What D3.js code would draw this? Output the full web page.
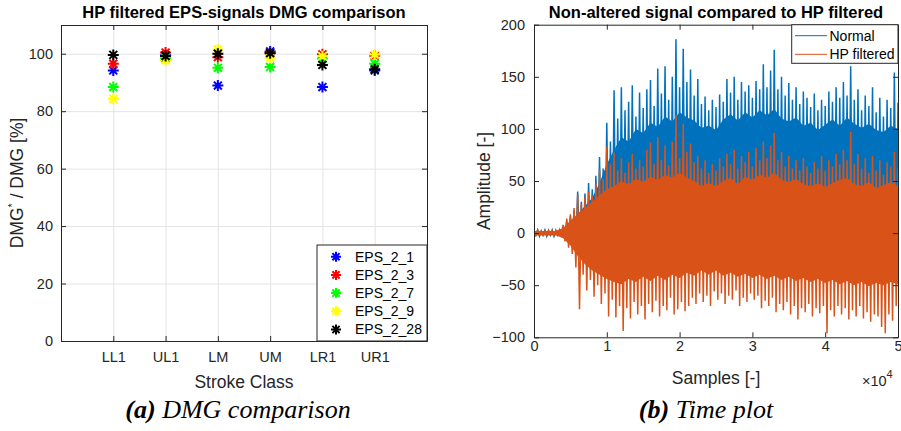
<!DOCTYPE html>
<meta charset="utf-8">
<style>
    body { margin: 0; background: #fff; }
    svg { display: block; font-family: "Liberation Sans", Arial, sans-serif; }
    .axis path, .axis line { stroke: #262626; }
    .axis text { fill: #262626; font-size: 14.5px; font-family: "Liberation Sans", Arial, sans-serif; }
    .grid line { stroke: #e4e4e4; }
    .grid path { display: none; }
    .lbl { fill: #262626; font-size: 17.5px; }
    .ttl { fill: #000; font-size: 16.5px; font-weight: bold; }
    .leg { fill: #000; font-size: 14px; }
    .cap { font-family: "Liberation Serif", "Times New Roman", serif; font-style: italic; font-size: 26px; fill: #000; }
</style>
<body>
<script src="https://cdn.jsdelivr.net/npm/d3@7"></script>
<script>
// ---- (a) DMG comparison data
var strokeClasses = ["LL1", "UL1", "LM", "UM", "LR1", "UR1"];
var eps_2_1  = [94.2, 99.5, 88.9, 100.8, 88.4, 94.2];
var eps_2_3  = [96.5, 100.4, 98.8, 100.3, 99.8, 99.3];
var eps_2_7  = [88.4, 98.4, 95.1, 95.4, 98.3, 96.5];
var eps_2_9  = [84.3, 97.8, 101.5, 98.6, 99.1, 99.7];
var eps_2_28 = [99.6, 99.2, 100.0, 100.2, 96.1, 94.6];
var seriesNames = ["EPS_2_1", "EPS_2_3", "EPS_2_7", "EPS_2_9", "EPS_2_28"];
var dmgTicks = [0, 20, 40, 60, 80, 100];

// ---- (b) time plot data: peaks, one bin per 500 samples
var binSize = 500;
var normalHi = [
    2, 3, 2, 3, 2, 3, 2, 3, 6, 12,
    16, 22, 40, 30, 38, 48, 42, 55, 73, 62,
    106, 88, 137, 110, 140, 118, 126, 142, 112, 135,
    120, 138, 147, 122, 158, 134, 160, 128, 150, 186,
    140, 177, 145, 157, 132, 148, 124, 131, 118, 128,
    121, 133, 126, 148, 135, 150, 128, 145, 136, 142,
    130, 146, 138, 162, 140, 156, 176, 138, 150, 132,
    144, 128, 140, 124, 136, 130, 121, 134, 118, 128,
    122, 136, 126, 140, 130, 145, 132, 160, 128, 138,
    118, 132, 122, 140, 116, 130, 112, 128, 120, 154,
    125];
var normalLo = [
    -2, -3, -2, -3, -2, -3, -2, -3, -5, -8,
    -10, -12, -15, -14, -18, -16, -20, -19, -22, -21,
    -25, -23, -27, -24, -28, -25, -27, -24, -28, -26,
    -27, -24, -28, -26, -27, -25, -28, -26, -27, -24,
    -26, -25, -28, -24, -27, -25, -26, -24, -28, -25,
    -27, -24, -26, -25, -28, -24, -27, -26, -25, -24,
    -28, -25, -27, -24, -26, -25, -28, -26, -27, -24,
    -26, -25, -28, -24, -27, -26, -28, -25, -27, -24,
    -28, -25, -26, -24, -27, -25, -28, -26, -27, -24,
    -26, -25, -28, -26, -27, -24, -28, -25, -27, -26,
    -25];
var filteredHi = [
    2, 3, 2, 2, 3, 2, 3, 2, 8, 14,
    18, 24, 37, 28, 34, 40, 36, 48, 61, 52,
    83, 66, 77, 60, 72, 58, 68, 76, 62, 70,
    64, 80, 87, 66, 92, 70, 84, 65, 88, 113,
    72, 105, 78, 86, 68, 74, 62, 70, 58, 66,
    60, 72, 64, 76, 66, 80, 62, 74, 68, 78,
    64, 82, 70, 88, 72, 84, 96, 70, 78, 64,
    74, 62, 70, 60, 72, 64, 58, 68, 62, 74,
    60, 70, 64, 76, 66, 80, 70, 97, 66, 76,
    62, 72, 58, 74, 60, 70, 56, 68, 64, 78,
    62];
var filteredLo = [
    -2, -1, -2, -2, -1, -2, -1, -2, -8, -14,
    -20, -33, -73, -40, -55, -45, -61, -50, -68, -58,
    -80, -64, -81, -70, -94, -72, -82, -66, -78, -70,
    -83, -68, -76, -65, -80, -70, -74, -62, -78, -73,
    -66, -75, -70, -62, -68, -58, -66, -60, -70, -56,
    -64, -58, -68, -60, -64, -55, -70, -62, -66, -58,
    -64, -60, -72, -65, -70, -62, -76, -68, -74, -66,
    -78, -70, -83, -72, -76, -68, -80, -72, -77, -70,
    -96, -74, -80, -70, -78, -72, -83, -74, -80, -70,
    -82, -76, -85, -78, -80, -90, -96, -78, -84, -70,
    -76];
// dense part of each trace, one value per 1000 samples
var coreStep = 1000;
var normalCoreHi = [
    2, 2, 2, 2, 4, 10, 18, 26, 34, 48,
    66, 80, 92, 88, 100, 96, 106, 102, 112, 107,
    116, 111, 108, 101, 103, 99, 109, 114, 108, 116,
    111, 118, 113, 119, 110, 107, 111, 103, 106, 99,
    104, 109, 103, 111, 105, 101, 105, 99, 97, 103,
    100];
var normalCoreLo = [
    -2, -2, -2, -2, -4, -8, -12, -15, -17, -19,
    -20, -21, -22, -21, -23, -22, -21, -23, -22, -21,
    -23, -22, -21, -23, -22, -21, -22, -23, -21, -22,
    -23, -21, -22, -23, -21, -22, -23, -22, -21, -23,
    -22, -21, -23, -22, -21, -22, -23, -21, -22, -23,
    -22];
var filteredCoreHi = [
    2, 2, 2, 2, 5, 12, 18, 24, 30, 36,
    42, 45, 50, 47, 52, 49, 54, 51, 56, 53,
    58, 53, 50, 45, 48, 45, 50, 53, 47, 54,
    51, 56, 53, 58, 51, 49, 52, 47, 45, 48,
    44, 48, 51, 53, 47, 45, 49, 43, 46, 49,
    45];
var filteredCoreLo = [
    -2, -2, -2, -2, -5, -12, -22, -30, -36, -40,
    -44, -47, -49, -44, -47, -42, -46, -41, -45, -40,
    -43, -38, -41, -36, -40, -36, -41, -38, -42, -39,
    -43, -40, -44, -41, -45, -42, -46, -43, -47, -44,
    -48, -45, -49, -46, -50, -47, -51, -48, -50, -47,
    -49];
var sampleTicks = [0, 10000, 20000, 30000, 40000, 50000];
var ampTicks = [-100, -50, 0, 50, 100, 150, 200];

var width = 901, height = 431;
var svg = d3.select("body").append("svg")
    .attr("width", width)
    .attr("height", height);

function star(r) {
    var d = r * 0.72;
    return "M" + (-r) + ",0L" + r + ",0M0," + (-r) + "L0," + r +
        "M" + (-d) + "," + (-d) + "L" + d + "," + d + "M" + (-d) + "," + d + "L" + d + "," + (-d);
}

// ================= left chart
var lx = d3.scaleLinear().domain([0, 7]).range([61, 427]);
var ly = d3.scaleLinear().domain([0, 110]).range([341, 25]);
var colors = ["#0000ff", "#ff0000", "#00ff00", "#ffff00", "#000000"];
var dmg = [eps_2_1, eps_2_3, eps_2_7, eps_2_9, eps_2_28];

svg.append("g").attr("class", "grid").attr("transform", "translate(0,341)")
    .call(d3.axisBottom(lx).tickValues([1, 2, 3, 4, 5, 6]).tickSize(-316).tickFormat(""));
svg.append("g").attr("class", "grid").attr("transform", "translate(61,0)")
    .call(d3.axisLeft(ly).tickValues([20, 40, 60, 80, 100]).tickSize(-366).tickFormat(""));

svg.append("g").attr("class", "axis").attr("transform", "translate(0,341)")
    .call(d3.axisBottom(lx).tickValues(d3.range(0, 8))
        .tickFormat(function (d) { return strokeClasses[d - 1] || ""; })
        .tickSizeInner(-5).tickSizeOuter(0).tickPadding(11));
svg.append("g").attr("class", "axis").attr("transform", "translate(0,25)")
    .call(d3.axisTop(lx).tickValues(d3.range(0, 8)).tickFormat("").tickSizeInner(-5).tickSizeOuter(0));
svg.append("g").attr("class", "axis").attr("transform", "translate(61,0)")
    .call(d3.axisLeft(ly).tickValues(dmgTicks).tickSizeInner(-5).tickSizeOuter(0).tickPadding(8));
svg.append("g").attr("class", "axis").attr("transform", "translate(427,0)")
    .call(d3.axisRight(ly).tickValues(dmgTicks).tickFormat("").tickSizeInner(-5).tickSizeOuter(0));

dmg.forEach(function (vals, s) {
    svg.append("g").selectAll("path")
        .data(vals)
        .enter().append("path")
        .attr("d", star(5.5))
        .attr("transform", function (d, i) { return "translate(" + lx(i + 1) + "," + ly(d) + ")"; })
        .attr("stroke", colors[s])
        .attr("stroke-width", 2)
        .attr("fill", "none");
});

// legend (a)
var legA = svg.append("g");
legA.append("rect").attr("x", 317).attr("y", 245).attr("width", 110).attr("height", 96)
    .attr("fill", "#fff").attr("stroke", "#262626");
seriesNames.forEach(function (n, i) {
    var yy = 256.7 + i * 18.2;
    legA.append("path").attr("d", star(5)).attr("transform", "translate(336," + yy + ")")
        .attr("stroke", colors[i]).attr("stroke-width", 2).attr("fill", "none");
    legA.append("text").attr("class", "leg").attr("x", 355).attr("y", yy).attr("dy", "0.35em").text(n);
});

svg.append("text").attr("class", "ttl").attr("x", 244).attr("y", 18).attr("text-anchor", "middle")
    .text("HP filtered EPS-signals DMG comparison");
svg.append("text").attr("class", "lbl").attr("x", 244).attr("y", 388).attr("text-anchor", "middle")
    .text("Stroke Class");
var yl = svg.append("text").attr("class", "lbl").attr("text-anchor", "middle")
    .attr("transform", "translate(23,183) rotate(-90)");
yl.append("tspan").text("DMG");
yl.append("tspan").attr("dy", -7).attr("font-size", "11px").text("*");
yl.append("tspan").attr("dy", 7).text(" / DMG [%]");

// ================= right chart
var rx = d3.scaleLinear().domain([0, 50000]).range([534, 898]);
var ry = d3.scaleLinear().domain([-100, 200]).range([337.3, 24.7]);

svg.append("clipPath").attr("id", "clipb").append("rect")
    .attr("x", 534).attr("y", 24.7).attr("width", 364).attr("height", 312.6);
var plotB = svg.append("g").attr("clip-path", "url(#clipb)");

function zigzag(hi, lo) {
    var pts = [];
    hi.forEach(function (v, i) {
        pts.push([i * binSize, v]);
        pts.push([i * binSize + binSize / 2, lo[i]]);
    });
    return pts;
}
var zline = d3.line().x(function (d) { return rx(d[0]); }).y(function (d) { return ry(d[1]); });
var core = d3.area()
    .x(function (d, i) { return rx(i * coreStep); })
    .y0(function (d) { return ry(d[0]); })
    .y1(function (d) { return ry(d[1]); });

function trace(hi, lo, cHi, cLo, col) {
    plotB.append("path")
        .attr("d", core(cLo.map(function (v, i) { return [v, cHi[i]]; })))
        .attr("fill", col);
    plotB.append("path")
        .attr("d", zline(zigzag(hi, lo)))
        .attr("fill", "none").attr("stroke", col).attr("stroke-width", 1.5);
}
trace(normalHi, normalLo, normalCoreHi, normalCoreLo, "#0072bd");
trace(filteredHi, filteredLo, filteredCoreHi, filteredCoreLo, "#d95319");

svg.append("g").attr("class", "axis").attr("transform", "translate(0,337.3)")
    .call(d3.axisBottom(rx).tickValues(sampleTicks).tickFormat(function (d) { return d / 10000; })
        .tickSizeInner(-5).tickSizeOuter(0).tickPadding(3));
svg.append("g").attr("class", "axis").attr("transform", "translate(0,24.7)")
    .call(d3.axisTop(rx).tickValues(sampleTicks).tickFormat("").tickSizeInner(-5).tickSizeOuter(0));
svg.append("g").attr("class", "axis").attr("transform", "translate(534,0)")
    .call(d3.axisLeft(ry).tickValues(ampTicks).tickSizeInner(-5).tickSizeOuter(0).tickPadding(9));
svg.append("g").attr("class", "axis").attr("transform", "translate(898,0)")
    .call(d3.axisRight(ry).tickValues(ampTicks).tickFormat("").tickSizeInner(-5).tickSizeOuter(0));

// legend (b)
var legB = svg.append("g");
legB.append("rect").attr("x", 791.7).attr("y", 24.7).attr("width", 106.3).attr("height", 38.6)
    .attr("fill", "#fff").attr("stroke", "#262626");
[["Normal", "#0072bd"], ["HP filtered", "#d95319"]].forEach(function (e, i) {
    var yy = 35.7 + i * 18.6;
    legB.append("line").attr("x1", 795).attr("x2", 827).attr("y1", yy).attr("y2", yy)
        .attr("stroke", e[1]).attr("stroke-width", 1);
    legB.append("text").attr("class", "leg").attr("x", 829.5).attr("y", yy).attr("dy", "0.35em").text(e[0]);
});

svg.append("text").attr("class", "ttl").attr("x", 716).attr("y", 18).attr("text-anchor", "middle")
    .text("Non-altered signal compared to HP filtered");
svg.append("text").attr("class", "lbl").attr("x", 716).attr("y", 384).attr("text-anchor", "middle")
    .text("Samples [-]");
svg.append("text").attr("class", "lbl").attr("text-anchor", "middle")
    .attr("transform", "translate(490,181) rotate(-90)")
    .text("Amplitude [-]");
var ex = svg.append("text").attr("x", 862).attr("y", 386).attr("fill", "#262626").attr("font-size", "14.5px");
ex.append("tspan").text("\u00d710");
ex.append("tspan").attr("dy", -8).attr("font-size", "11px").text("4");

// ================= captions
var capA = svg.append("text").attr("class", "cap").attr("x", 238).attr("y", 418).attr("text-anchor", "middle");
capA.append("tspan").attr("font-weight", "bold").text("(a)");
capA.append("tspan").text(" DMG comparison");
var capB = svg.append("text").attr("class", "cap").attr("x", 706).attr("y", 418).attr("text-anchor", "middle");
capB.append("tspan").attr("font-weight", "bold").text("(b)");
capB.append("tspan").text(" Time plot");
</script>
</body>
